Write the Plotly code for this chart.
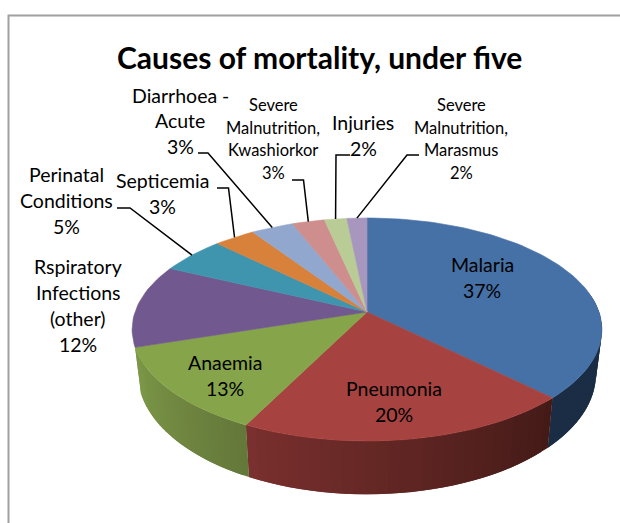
import math
import plotly.graph_objects as go

title = "Causes of mortality, under five"
causes = ["Malaria", "Pneumonia", "Anaemia", "Rspiratory Infections (other)", "Perinatal Conditions",
          "Septicemia", "Diarrhoea - Acute", "Severe Malnutrition, Kwashiorkor", "Injuries",
          "Severe Malnutrition, Marasmus"]
shares = [37.4, 20.0, 12.6, 12.0, 5.3, 3.3, 3.4, 2.6, 1.8, 1.6]
colors = ["#4671A6", "#A64340", "#86A44A", "#71588F", "#4095AE", "#D8813B", "#91A7CE", "#CD8E8D", "#B9CC95", "#A797BF"]
wall_left = ["#1A2D45", "#7A302E", "#7D9A48"]
wall_right = ["#1A2D45", "#431A17", "#64773A"]
label_lines = [["Malaria"], ["Pneumonia"], ["Anaemia"], ["Rspiratory", "Infections", "(other)"],
               ["Perinatal", "Conditions"], ["Septicemia"], ["Diarrhoea -", "Acute"],
               ["Severe", "Malnutrition,", "Kwashiorkor"], ["Injuries"], ["Severe", "Malnutrition,", "Marasmus"]]
# layout: label centre x, first line y, line step, font size
label_pos = [(482, 264, 26, 19.5), (394, 388, 26, 19.5), (225, 362, 26, 19.5), (78, 266, 26, 19.5), (66, 174, 26, 19.5),
             (162, 180, 26, 19.5), (180, 95, 25.5, 19.5), (273, 105, 22.7, 16.5), (363, 122, 26, 19.5), (461, 105, 22.7, 16.5)]
# layout: leader elbows (start, bend); the end is on the rim of the slice
leaders = {4: [(117, 208), (130, 208)], 5: [(217, 188), (228.5, 188)], 6: [(198, 153), (208, 153)],
           7: [(292, 180), (303.5, 180)], 8: [(350, 155), (336, 155)], 9: [(419, 155), (407, 155)]}

CX, CY = 367, 312
RX, RY, Q = 232, 108.75, -0.157
WALL_SX, WALL_SY, WALL_D = 0.975, 1.08, 43
FONT = "Lato"


def rim(pct):
    a = math.radians(pct * 3.6)
    X, Y = math.sin(a), -math.cos(a)
    d = 1 + Q * Y
    return X * RX / d, Y * RY / d


def top(pct):
    x, y = rim(pct)
    return CX + x, CY + y


def low(pct):
    x, y = rim(pct)
    return CX + x * WALL_SX, CY + y * WALL_SY + WALL_D


def mix(c1, c2, t):
    a = [int(c1[i:i + 2], 16) for i in (1, 3, 5)]
    b = [int(c2[i:i + 2], 16) for i in (1, 3, 5)]
    return "rgb(%d,%d,%d)" % tuple(round(p + (q - p) * t) for p, q in zip(a, b))


def poly(xs, ys, color, width=0.6):
    return go.Scatter(x=xs, y=ys, mode="lines", fill="toself", fillcolor=color,
                      line=dict(color=color, width=width), hoverinfo="skip", showlegend=False)


fig = go.Figure()
edges = [0]
for s in shares:
    edges.append(edges[-1] + s)

# side wall: overlapping strips for the shading (visible part of the first three slices)
for i in (0, 1, 2):
    start, end = edges[i], edges[i + 1]
    if i == 0:
        start = 22
    n = 30
    for k in range(n):
        p0 = start + (end - start) * k / n
        p1 = min(end, start + (end - start) * (k + 2) / n)
        t = (k + 0.5) / n
        xs, ys = [], []
        m = 4
        for q in range(m + 1):
            xp, yp = top(p0 + (p1 - p0) * q / m)
            xs.append(xp)
            ys.append(yp)
        for q in range(m, -1, -1):
            xp, yp = low(p0 + (p1 - p0) * q / m)
            xs.append(xp)
            ys.append(yp)
        xs.append(xs[0])
        ys.append(ys[0])
        fig.add_trace(poly(xs, ys, mix(wall_right[i], wall_left[i], t), width=0))

# top face
for i, col in enumerate(colors):
    n = max(4, int(shares[i] * 2))
    pts = [top(edges[i] + shares[i] * k / n) for k in range(n + 1)]
    xs = [CX] + [p[0] for p in pts] + [CX]
    ys = [CY] + [p[1] for p in pts] + [CY]
    fig.add_trace(poly(xs, ys, col))

# leader lines
for i, elbow in leaders.items():
    end = top(edges[i] + shares[i] / 2)
    fig.add_trace(go.Scatter(x=[elbow[0][0], elbow[1][0], end[0]], y=[elbow[0][1], elbow[1][1], end[1]],
                             mode="lines", line=dict(color="#000000", width=1.5),
                             hoverinfo="skip", showlegend=False))

# labels, one annotation per line so that the line spacing can follow the reference
annotations = [dict(x=319, y=57, xref="x", yref="y", text="<b>%s</b>" % title, showarrow=False,
                    font=dict(family=FONT, size=30, color="#000000"))]
for i, lines in enumerate(label_lines):
    cx, y0, step, size = label_pos[i]
    for j, line in enumerate(lines + ["%d%%" % round(shares[i])]):
        annotations.append(dict(x=cx, y=y0 + j * step, xref="x", yref="y", text=line, showarrow=False,
                                font=dict(family=FONT, size=size, color="#000000")))

fig.update_layout(
    width=620, height=523, margin=dict(l=0, r=0, t=0, b=0), autosize=False,
    paper_bgcolor="#FFFFFF", plot_bgcolor="#FFFFFF", showlegend=False,
    xaxis=dict(range=[0, 620], visible=False, fixedrange=True),
    yaxis=dict(range=[523, 0], visible=False, fixedrange=True),
    annotations=annotations,
    shapes=[dict(type="rect", xref="x", yref="y", x0=8.5, y0=15.5, x1=660, y1=560,
                 line=dict(color="#A0A0A0", width=2), layer="below")],
)
fig.write_html("out.html", config={"displayModeBar": False},
               post_script="document.documentElement.style.overflow='hidden';document.body.style.margin='0';")
